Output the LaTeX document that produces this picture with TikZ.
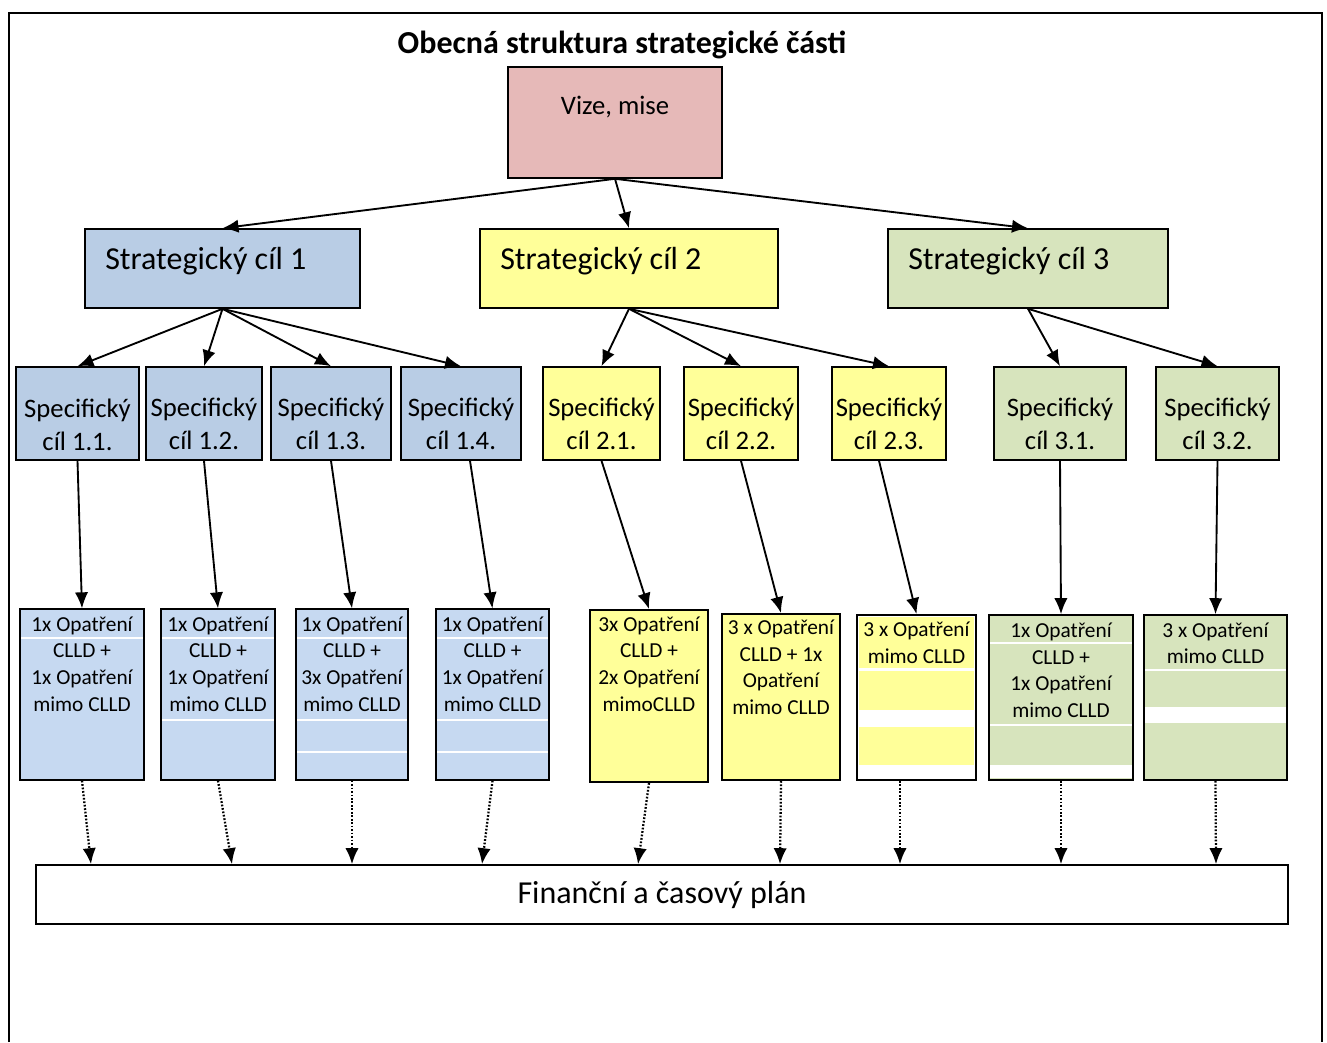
\documentclass[tikz,border=0pt]{standalone}
\usepackage{fontspec}
\setmainfont{Carlito}
\usetikzlibrary{arrows.meta,fit}

\definecolor{vizepink}{HTML}{E6B9B8}
\definecolor{cilblue}{HTML}{B9CDE5}
\definecolor{opblue}{HTML}{C6D9F1}
\definecolor{cilyellow}{HTML}{FFFF99}
\definecolor{cilgreen}{HTML}{D7E4BD}

\tikzset{
  box/.style={draw=black, line width=1.2pt, inner sep=0pt},
  opbox/.style={draw=black, line width=1pt, inner sep=0pt},
  cil/.style={font=\fontsize{24}{29}\selectfont, inner sep=0pt},
  spec/.style={font=\fontsize{20}{24.5}\selectfont, align=center, inner sep=0pt},
  opat/.style={font=\fontsize{16}{19.9}\selectfont, align=center, inner sep=0pt},
  conn/.style={line width=1.4pt, ->},
  tocas/.style={line width=1.7pt, dash pattern=on 1.3pt off 1.3pt, ->},
  sep/.style={white, line width=1.6pt}
}

\begin{document}
\begin{tikzpicture}[x=0.75pt, y=-0.75pt, >={Latex[length=12pt, width=10pt]}]
    \useasboundingbox (0,0) rectangle (1327,1042);

    % Ramecek
    \draw[black, line width=1.5pt] (9,1042) -- (9,13) -- (1322,13) -- (1322,1042);

    % Nadpis
    \node[font=\bfseries\fontsize{24}{28}\selectfont, inner sep=0pt] (nadpis) at (622,45) {Obecná struktura strategické části};

    % Vize, mise
    \node[box, fill=vizepink, fit={(508,67) (722,178)}] (vize) {};
    \node[font=\fontsize{20}{24}\selectfont, inner sep=0pt] (vizet) at (615,107) {Vize, mise};

    % Strategicke cile
    \node[box, fill=cilblue, fit={(85,229) (360,308)}] (sc1) {};
    \node[box, fill=cilyellow, fit={(480,229) (778,308)}] (sc2) {};
    \node[box, fill=cilgreen, fit={(888,229) (1168,308)}] (sc3) {};
    \node[cil, anchor=west] (sc1t) at (105,261) {Strategický cíl 1};
    \node[cil, anchor=west] (sc2t) at (500,261) {Strategický cíl 2};
    \node[cil, anchor=west] (sc3t) at (908,261) {Strategický cíl 3};

    % Specificke cile
    \node[box, fill=cilblue, fit={(16,367) (139,460)}] (s11) {};
    \node[box, fill=cilblue, fit={(146,367) (262,460)}] (s12) {};
    \node[box, fill=cilblue, fit={(271,367) (391,460)}] (s13) {};
    \node[box, fill=cilblue, fit={(401,367) (521,460)}] (s14) {};
    \node[box, fill=cilyellow, fit={(543,367) (660,460)}] (s21) {};
    \node[box, fill=cilyellow, fit={(684,367) (798,460)}] (s22) {};
    \node[box, fill=cilyellow, fit={(832,367) (946,460)}] (s23) {};
    \node[box, fill=cilgreen, fit={(994,367) (1126,460)}] (s31) {};
    \node[box, fill=cilgreen, fit={(1156,367) (1279,460)}] (s32) {};
    \node[spec] (s11t) at (77.5,425) {Specifický\\cíl 1.1.};
    \node[spec] (s12t) at (204,424) {Specifický\\cíl 1.2.};
    \node[spec] (s13t) at (331,424) {Specifický\\cíl 1.3.};
    \node[spec] (s14t) at (461,424) {Specifický\\cíl 1.4.};
    \node[spec] (s21t) at (601.5,424) {Specifický\\cíl 2.1.};
    \node[spec] (s22t) at (741,424) {Specifický\\cíl 2.2.};
    \node[spec] (s23t) at (889,424) {Specifický\\cíl 2.3.};
    \node[spec] (s31t) at (1060,424) {Specifický\\cíl 3.1.};
    \node[spec] (s32t) at (1217.5,424) {Specifický\\cíl 3.2.};

    % Opatreni
    \node[opbox, fill=opblue, fit={(20,609) (144,780)}] (m1) {};
    \node[opbox, fill=opblue, fit={(161,609) (275,780)}] (m2) {};
    \node[opbox, fill=opblue, fit={(296,609) (408,780)}] (m3) {};
    \node[opbox, fill=opblue, fit={(436,609) (549,780)}] (m4) {};
    \node[box, line width=1.5pt, fill=cilyellow, fit={(590,610) (708,782)}] (m5) {};
    \node[box, line width=1.5pt, fill=cilyellow, fit={(722,614) (840,780)}] (m6) {};
    \node[box, line width=1.5pt, fill=white, fit={(857,615) (976,780)}] (m7) {};
    \node[box, fill=cilgreen, fit={(989,615) (1133,780)}] (m8) {};
    \node[box, fill=cilgreen, fit={(1144,615) (1287,780)}] (m9) {};

    % bile linky v tabulkach
    \draw[sep] (21,638) -- (143,638);
    \draw[sep] (162,638) -- (274,638);
    \draw[sep] (162,720) -- (274,720);
    \draw[sep] (297,638) -- (407,638);
    \draw[sep] (297,720) -- (407,720);
    \draw[sep] (297,752) -- (407,752);
    \draw[sep] (437,638) -- (548,638);
    \draw[sep] (437,720) -- (548,720);
    \draw[sep] (437,752) -- (548,752);
    \fill[cilyellow] (859,617) rectangle (974,668);
    \fill[cilyellow] (859,671) rectangle (974,710);
    \fill[cilyellow] (859,727) rectangle (974,765);
    \draw[sep] (990,643) -- (1132,643);
    \draw[sep] (990,725) -- (1132,725);
    \fill[white] (990,765) rectangle (1132,778);
    \draw[sep] (1145,670) -- (1286,670);
    \fill[white] (1145,707) rectangle (1286,723);

    \node[opat] (m1t) at (82,664) {1x Opatření\\CLLD +\\1x Opatření\\mimo CLLD};
    \node[opat] (m2t) at (218,664) {1x Opatření\\CLLD +\\1x Opatření\\mimo CLLD};
    \node[opat] (m3t) at (352,664) {1x Opatření\\CLLD +\\3x Opatření\\mimo CLLD};
    \node[opat] (m4t) at (492.5,664) {1x Opatření\\CLLD +\\1x Opatření\\mimo CLLD};
    \node[opat] (m5t) at (649,664) {3x Opatření\\CLLD +\\2x Opatření\\mimoCLLD};
    \node[opat] (m6t) at (781,667.5) {3 x Opatření\\CLLD + 1x\\Opatření\\mimo CLLD};
    \node[opat] (m7t) at (916.5,643) {3 x Opatření\\mimo CLLD};
    \node[opat] (m8t) at (1061,670.5) {1x Opatření\\CLLD +\\1x Opatření\\mimo CLLD};
    \node[opat] (m9t) at (1215.5,643.5) {3 x Opatření\\mimo CLLD};

    % Financni a casovy plan
    \node[box, fill=white, fit={(36,865) (1288,924)}] (plan) {};
    \node[cil] (plant) at (662,895) {Finanční a časový plán};

    % Sipky
    \draw[conn] (vize.south) -- (sc1.north);
    \draw[conn] (vize.south) -- (sc2.north);
    \draw[conn] (vize.south) -- (sc3.north);

    \draw[conn] (sc1.south) -- (s11.north);
    \draw[conn] (sc1.south) -- (s12.north);
    \draw[conn] (sc1.south) -- (s13.north);
    \draw[conn] (sc1.south) -- (s14.north);
    \draw[conn] (sc2.south) -- (s21.north);
    \draw[conn] (sc2.south) -- (s22.north);
    \draw[conn] (sc2.south) -- (s23.north);
    \draw[conn] (sc3.south) -- (s31.north);
    \draw[conn] (sc3.south) -- (s32.north);

    \draw[conn] (s11.south) -- (m1.north);
    \draw[conn] (s12.south) -- (m2.north);
    \draw[conn] (s13.south) -- (m3.north);
    \draw[conn] (470,0 |- s14.south) -- (m4.north);
    \draw[conn] (s21.south) -- (m5.north);
    \draw[conn] (s22.south) -- (m6.north);
    \draw[conn] (879,0 |- s23.south) -- (m7.north);
    \draw[conn] (s31.south) -- (m8.north);
    \draw[conn] (s32.south) -- (m9.north);

    % teckovane sipky do planu
    \draw[tocas] (m1.south) -- (91,0 |- plan.north);
    \draw[tocas] (m2.south) -- (232,0 |- plan.north);
    \draw[tocas] (m3.south) -- (352,0 |- plan.north);
    \draw[tocas] (m4.south) -- (482,0 |- plan.north);
    \draw[tocas] (m5.south) -- (638,0 |- plan.north);
    \draw[tocas] (m6.south) -- (780,0 |- plan.north);
    \draw[tocas] (900,0 |- m7.south) -- (900,0 |- plan.north);
    \draw[tocas] (m8.south) -- (1061,0 |- plan.north);
    \draw[tocas] (m9.south) -- (1216,0 |- plan.north);
\end{tikzpicture}
\end{document}
